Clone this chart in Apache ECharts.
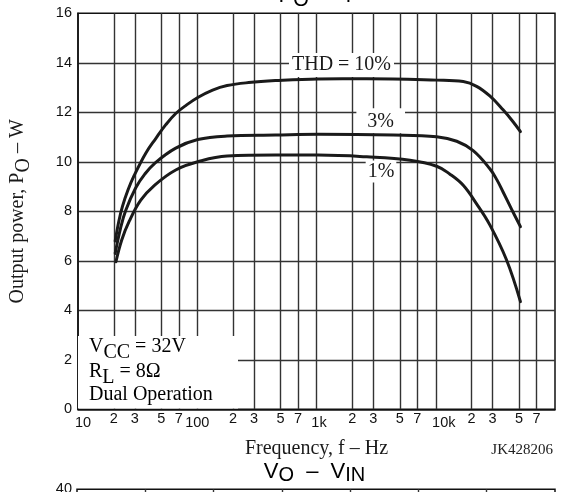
<!DOCTYPE html>
<html><head><meta charset="utf-8">
<script src="https://cdn.jsdelivr.net/npm/echarts@6/dist/echarts.min.js"></script>
<style>html,body{margin:0;padding:0;background:#fff}#c{width:575px;height:492px}</style>
</head><body><div id="c"></div>
<script>
// ---- data ----
const xTicks = [10,20,30,50,70,100,200,300,500,700,1000,2000,3000,5000,7000,10000,20000,30000,50000,70000,100000];
const xTickLabels = ['10','2','3','5','7','100','2','3','5','7','1k','2','3','5','7','10k','2','3','5','7','100k'];
const yTicksMin = 0, yTicksMax = 16, yTicksStep = 2;

const freq10 = [20.5, 22, 23.6, 26.2, 29.6, 37, 45, 54.5, 66, 81.5, 101, 134.5, 178, 270, 452, 1030, 2640, 10170, 17000, 22000, 28400, 36700, 44500, 51300];
const thd10  = [6.8, 7.6, 8.2, 8.85, 9.45, 10.35, 10.95, 11.5, 11.95, 12.3, 12.6, 12.9, 13.08, 13.2, 13.28, 13.35, 13.36, 13.3, 13.24, 13.05, 12.66, 12.1, 11.62, 11.22];

const freq3 = [20.5, 22.7, 25.2, 30.5, 36.3, 44, 66, 101, 178, 452, 1030, 4400, 10170, 15000, 20600, 28400, 32500, 36700, 43300, 51300];
const thd3  = [6.3, 7.3, 8.05, 8.95, 9.5, 9.94, 10.55, 10.9, 11.04, 11.08, 11.11, 11.08, 11.01, 10.83, 10.45, 9.72, 9.28, 8.78, 8.08, 7.38];

const freq1 = [20.8, 23.3, 26.9, 33.6, 44, 66, 101, 178, 452, 1030, 2640, 6080, 10170, 13150, 17000, 22000, 28400, 39100, 51300];
const thd1  = [5.96, 6.85, 7.6, 8.45, 9.06, 9.67, 10.0, 10.23, 10.27, 10.27, 10.2, 10.06, 9.82, 9.5, 9.05, 8.3, 7.45, 6.05, 4.35];

const curveNames = ['THD = 10%', '3%', '1%'];

// second (cut-off) chart axes
const x2Min = 0, x2Max = 7, x2Step = 1;
const y2Min = 0, y2Max = 40, y2Step = 10;

// ---- chart ----
const SERIF = 'Liberation Serif, Times New Roman, serif';
const SANS = 'Liberation Sans, Arial, sans-serif';
const GRIDC = '#333';
const CURVE = '#1a1a1a';

function pairs(xs, ys) { return xs.map((x, i) => [x, ys[i]]); }
function tickLabel(v) {
  for (let i = 0; i < xTicks.length; i++) {
    if (Math.abs(v - xTicks[i]) / xTicks[i] < 1e-6) return xTickLabels[i];
  }
  return '';
}
const decadeStyle = { '10': 'da', '100': 'db', '1k': 'dc', '10k': 'dd', '100k': 'dd' };

const chart = echarts.init(document.getElementById('c'), null, { renderer: 'canvas' });

const serifMain = { fontFamily: SERIF, fontSize: 20, lineHeight: 20, verticalAlign: 'top', color: '#1a1a1a' };
const serifSub = Object.assign({}, serifMain, { padding: [6, 0, 0, 0] });
const sansMain = { fontFamily: SANS, fontSize: 22, lineHeight: 22, verticalAlign: 'top', color: '#111' };
const sansSub = { fontFamily: SANS, fontSize: 20, lineHeight: 22, verticalAlign: 'top', color: '#111', padding: [4, 0, 0, 0] };
const tickFont = { fontFamily: SANS, fontSize: 14.5, lineHeight: 16, color: '#111' };

const lineSeries = (name, xs, ys) => ({
  name, type: 'line', xAxisIndex: 0, yAxisIndex: 0, data: pairs(xs, ys),
  showSymbol: false, symbol: 'none', smooth: 0.4,
  lineStyle: { color: CURVE, width: 3, cap: 'round', join: 'round' }, z: 3
});

const option = {
  animation: false,
  backgroundColor: '#fff',
  grid: [
    { left: 77, right: 20, top: 13.3, height: 396, show: true, borderColor: '#111', borderWidth: 1.5, backgroundColor: 'transparent' },
    { left: 77, right: 20, top: 489.3, height: 400, show: true, borderColor: '#111', borderWidth: 1.5, backgroundColor: 'transparent' }
  ],
  xAxis: [
    {
      type: 'log', logBase: 10, min: 10, max: 100000, gridIndex: 0,
      axisLine: { show: true, lineStyle: { color: '#111', width: 1.5 } },
      axisTick: { show: false, customValues: xTicks },
      splitLine: { show: true, showMinLine: false, showMaxLine: false, lineStyle: { color: GRIDC, width: 1.4 } },
      axisLabel: {
        customValues: xTicks,
        margin: 2,
        formatter: function (v) {
          const t = tickLabel(v);
          if (decadeStyle[t]) return '{' + decadeStyle[t] + '|' + t + '}';
          return '{m|' + t + '}';
        },
        rich: {
          m: tickFont,
          da: Object.assign({}, tickFont, { padding: [8, 0, 0, 10] }),
          db: Object.assign({}, tickFont, { padding: [8, 0, 0, 0] }),
          dc: Object.assign({}, tickFont, { padding: [8, 0, 0, 5] }),
          dd: Object.assign({}, tickFont, { padding: [8, 0, 0, 16] })
        }
      },
      name: 'Frequency, f \u2013 Hz',
      nameLocation: 'middle',
      nameGap: 29,
      nameTextStyle: { fontFamily: SERIF, fontSize: 20, lineHeight: 20, color: '#1a1a1a', verticalAlign: 'top' }
    },
    {
      type: 'value', min: x2Min, max: x2Max, interval: x2Step, gridIndex: 1,
      axisLine: { show: false }, axisTick: { show: false }, axisLabel: { show: false },
      splitLine: { show: true, showMinLine: false, showMaxLine: false, lineStyle: { color: GRIDC, width: 1.4 } }
    }
  ],
  yAxis: [
    {
      type: 'value', min: yTicksMin, max: yTicksMax, interval: yTicksStep, gridIndex: 0,
      axisLine: { show: true, lineStyle: { color: '#111', width: 1.5 } },
      axisTick: { show: false },
      splitLine: { show: true, showMinLine: false, showMaxLine: false, lineStyle: { color: GRIDC, width: 1.4 } },
      axisLabel: { fontFamily: SANS, fontSize: 14.5, color: '#111', margin: 6 },
      name: '{m|Output power, P}{s|O}{m| \u2013 W}',
      nameLocation: 'middle',
      nameRotate: 90,
      nameGap: 50,
      nameTextStyle: {
        rich: {
          m: { fontFamily: SERIF, fontSize: 20, lineHeight: 20, verticalAlign: 'top', color: '#1a1a1a' },
          s: { fontFamily: SERIF, fontSize: 20, lineHeight: 20, verticalAlign: 'top', color: '#1a1a1a', padding: [6, 0, 0, 0] }
        }
      }
    },
    {
      type: 'value', min: y2Min, max: y2Max, interval: y2Step, gridIndex: 1,
      axisLine: { show: false }, axisTick: { show: false },
      splitLine: { show: true, showMinLine: false, showMaxLine: false, lineStyle: { color: GRIDC, width: 1.4 } },
      axisLabel: { fontFamily: SANS, fontSize: 14.5, color: '#111', margin: 5 }
    }
  ],
  series: [
    lineSeries(curveNames[0], freq10, thd10),
    lineSeries(curveNames[1], freq3, thd3),
    lineSeries(curveNames[2], freq1, thd1)
  ],
  graphic: {
    elements: [
      { type: 'text', z: 5, style: { x: 315, y: -15.5, align: 'center', verticalAlign: 'top', text: '{m|P}{s|O}{m|  \u2013  f}', rich: { m: sansMain, s: Object.assign({}, sansSub, { padding: [6, 0, 0, 0] }) } } },
      { type: 'text', z: 1, style: { x: 341.5, y: 52.9, align: 'center', verticalAlign: 'top', text: curveNames[0], font: '20px ' + SERIF, lineHeight: 20, fill: '#1a1a1a', backgroundColor: '#fff', padding: [2, 3, 2, 3] } },
      { type: 'text', z: 1, style: { x: 380.7, y: 108.2, align: 'center', verticalAlign: 'top', text: curveNames[1], font: '20px ' + SERIF, lineHeight: 20, fill: '#1a1a1a', backgroundColor: '#fff', padding: [4, 11, 1, 11] } },
      { type: 'text', z: 1, style: { x: 381, y: 160.5, align: 'center', verticalAlign: 'top', text: curveNames[2], font: '20px ' + SERIF, lineHeight: 20, fill: '#1a1a1a', backgroundColor: '#fff', padding: [1, 2, 1, 2] } },
      { type: 'rect', z: 1, shape: { x: 78, y: 336, width: 160, height: 72.5 }, style: { fill: '#fff' } },
      { type: 'text', z: 4, style: { x: 89, y: 336.5, align: 'left', verticalAlign: 'top', text: '{m|V}{s|CC}{m| = 32V}', rich: { m: serifMain, s: serifSub } } },
      { type: 'text', z: 4, style: { x: 89, y: 361.5, align: 'left', verticalAlign: 'top', text: '{m|R}{s|L}{m| = 8\u03A9}', rich: { m: serifMain, s: serifSub } } },
      { type: 'text', z: 4, style: { x: 89, y: 385, align: 'left', verticalAlign: 'top', text: '{m|Dual Operation}', rich: { m: serifMain } } },
      { type: 'text', z: 4, style: { x: 553, y: 442.4, align: 'right', verticalAlign: 'top', text: 'JK428206', font: '15px ' + SERIF, lineHeight: 15, fill: '#222' } },
      { type: 'text', z: 5, style: { x: 314.5, y: 461, align: 'center', verticalAlign: 'top', text: '{m|V}{s|O}{m|  \u2013  V}{s|IN}', rich: { m: sansMain, s: sansSub } } }
    ]
  }
};
chart.setOption(option);
</script>
</body></html>
